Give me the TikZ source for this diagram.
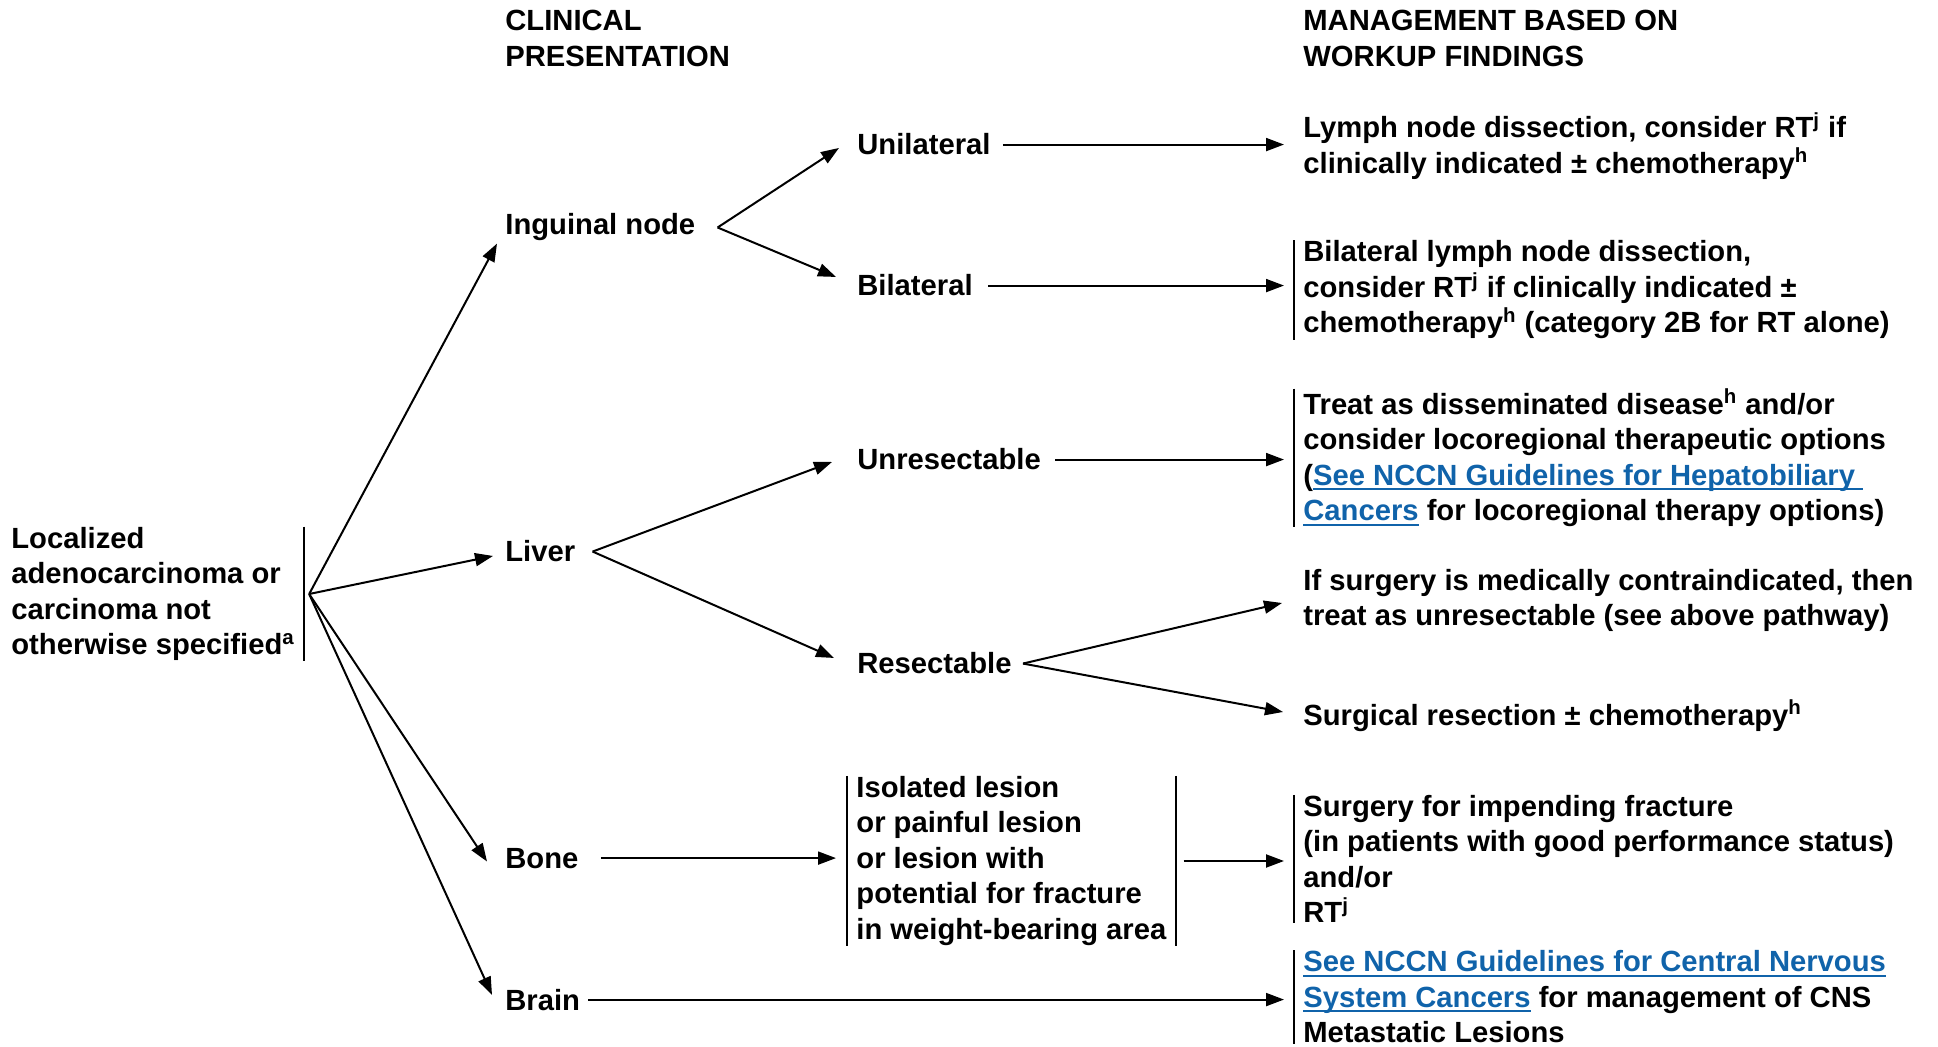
\documentclass[tikz,border=0pt]{standalone}
\usepackage{fontspec}
\setmainfont{Liberation Sans}
\usetikzlibrary{arrows.meta}
\definecolor{linkblue}{RGB}{16,99,170}
\newcommand{\lnk}[1]{\textcolor{linkblue}{\setbox0\hbox{#1}\rlap{\rule[-2.4pt]{\wd0}{0.9pt}}\box0}}

\begin{document}
\begin{tikzpicture}[x=0.5pt,y=-0.5pt]
\tikzstyle{every node}+=[inner sep=0pt,font=\fontsize{14.6}{17.75}\selectfont\bfseries]
\tikzstyle{lbl}=[anchor=base west]
\tikzstyle{txt}=[anchor=west,align=left]
\tikzstyle{res}=[txt,inner xsep=4.5pt]
\tikzstyle{arr}=[-{Triangle[length=9pt,width=6.5pt]},line width=1pt]
\tikzstyle{bar}=[line width=1pt]
\useasboundingbox (0,0) rectangle (1938,1047);

\node[txt] (hd1) at (505,38.5) {CLINICAL\\PRESENTATION};
\node[txt] (hd2) at (1303,38.5) {MANAGEMENT BASED ON\\WORKUP FINDINGS};

\node[res] (src) at (2,594) {Localized\\adenocarcinoma or\\carcinoma not\\otherwise specified\textsuperscript{a}};
\node[lbl] (ing) at (505,235) {Inguinal node};
\node[lbl] (liv) at (505,562) {Liver};
\node[lbl] (bone) at (505,868) {Bone};
\node[lbl] (brain) at (505,1010) {Brain};
\node[lbl] (uni) at (857,155) {Unilateral};
\node[lbl] (bil) at (857,296) {Bilateral};
\node[lbl] (unr) at (857,470) {Unresectable};
\node[lbl] (rsc) at (857,674) {Resectable};
\node[res] (box) at (847,861) {Isolated lesion\\or painful lesion\\or lesion with\\potential for fracture\\in weight-bearing area};

\node[res] (unires) at (1294,146) {Lymph node dissection, consider RT\textsuperscript{j} if\\clinically indicated ± chemotherapy\textsuperscript{h}};
\node[res] (bilres) at (1294,290) {Bilateral lymph node dissection,\\consider RT\textsuperscript{j} if clinically indicated ±\\chemotherapy\textsuperscript{h} (category 2B for RT alone)};
\node[res] (unrres) at (1294,458) {Treat as disseminated disease\textsuperscript{h} and/or\\consider locoregional therapeutic options\\(\lnk{See NCCN Guidelines for Hepatobiliary\ }\\\lnk{Cancers} for locoregional therapy options)};
\node[res] (ifres) at (1294,600.5) {If surgery is medically contraindicated, then\\treat as unresectable (see above pathway)};
\node[res] (surg) at (1294,715.5) {Surgical resection ± chemotherapy\textsuperscript{h}};
\node[res] (boneres) at (1294,859) {Surgery for impending fracture\\(in patients with good performance status)\\and/or\\RT\textsuperscript{j}};
\node[res] (brainres) at (1294,997) {\lnk{See NCCN Guidelines for Central Nervous}\\\lnk{System Cancers} for management of CNS\\Metastatic Lesions};

\foreach \n in {bilres,unrres,box,boneres,brainres}
  \draw[bar] (\n.north west) -- (\n.south west);
\foreach \n in {src,box}
  \draw[bar] (\n.north east) -- (\n.south east);

\coordinate (srcfan) at ([xshift=2.5pt]src.east);
\coordinate (ingfan) at ([xshift=11pt]ing.east);
\coordinate (livfan) at ([xshift=8.5pt]liv.east);
\coordinate (rscfan) at ([xshift=5.5pt]rsc.east);

\draw[arr] (srcfan) -- ([xshift=-4pt,yshift=-1pt]ing.south west);
\draw[arr] (srcfan) -- ([xshift=-6pt,yshift=-2.2pt]liv.west);
\draw[arr] (srcfan) -- ([xshift=-9pt,yshift=-1.7pt]bone.west);
\draw[arr] (srcfan) -- ([xshift=-6.5pt,yshift=2.3pt]brain.west);

\draw[arr] (ingfan) -- ([xshift=-9pt,yshift=-1.7pt]uni.west);
\draw[arr] (ingfan) -- ([xshift=-10.5pt,yshift=4.3pt]bil.west);
\draw[arr] (livfan) -- ([xshift=-12.5pt,yshift=-1.2pt]unr.west);
\draw[arr] (livfan) -- ([xshift=-11.5pt,yshift=2.8pt]rsc.west);
\draw[arr] (rscfan) -- ([xshift=-6pt,yshift=-1.25pt]ifres.west);
\draw[arr] (rscfan) -- ([xshift=-5.5pt,yshift=1.75pt]surg.west);

\draw[arr,shorten >=5pt] ([xshift=6pt]uni.east) -- (uni.east -| unires.west);
\draw[arr,shorten >=5pt] ([xshift=7.5pt]bil.east) -- (bil.east -| bilres.west);
\draw[arr,shorten >=5pt] ([xshift=7pt]unr.east) -- (unr.east -| unrres.west);
\draw[arr,shorten >=5.5pt] ([xshift=11pt]bone.east) -- (bone.east -| box.west);
\draw[arr,shorten >=5pt] ([xshift=4pt]box.east) -- (box.east -| boneres.west);
\draw[arr,shorten >=5pt] ([xshift=4pt]brain.east) -- (brain.east -| brainres.west);
\end{tikzpicture}
\end{document}
